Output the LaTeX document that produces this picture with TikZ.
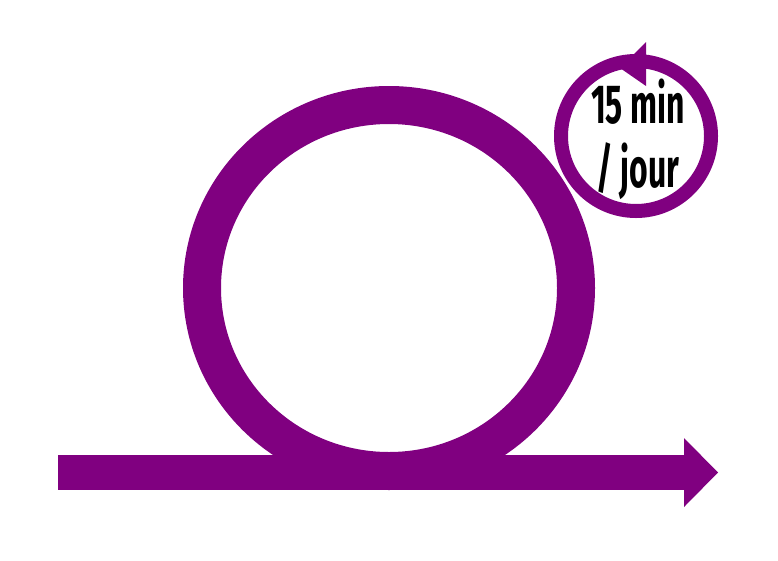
\documentclass[tikz,border=0pt]{standalone}
\usepackage{fontspec}
\newfontfamily\clockfont[FakeStretch=0.58]{Fira Sans}
\usepackage{tikz}
\usetikzlibrary{positioning}
\definecolor{loopviolet}{HTML}{800080}

\begin{document}
\begin{tikzpicture}[x=1pt, y=-1pt,
    bigring/.style={draw=loopviolet, line width=38pt},
    smallring/.style={draw=loopviolet, fill=white, line width=14pt},
    timeline/.style={draw=loopviolet, line width=35pt},
    tip/.style={fill=loopviolet},
    every node/.style={font=\clockfont\bfseries\fontsize{55}{64}\selectfont, inner sep=0pt}]
      \useasboundingbox (0,0) rectangle (778,560);
      % time line and its head
      \coordinate (start) at (58,472.5);
      \coordinate (end) at (685,472.5);
      \draw[timeline] (start) -- (end);
      \fill[tip] (684,438) -- (718,472.5) -- (684,507) -- cycle;
      % the loop
      \draw[bigring] (389,288) ellipse [x radius=187, y radius=183];
      % small clock
      \draw[smallring] (636,136) circle [radius=75];
      \fill[tip] (646,42) -- (620,68) -- (646,86) -- cycle;
      \node[anchor=base] (duree) at (638,123) {15 min};
      \node[anchor=base] (jour) at (638,187) {/ jour};
    \end{tikzpicture}
\end{document}
